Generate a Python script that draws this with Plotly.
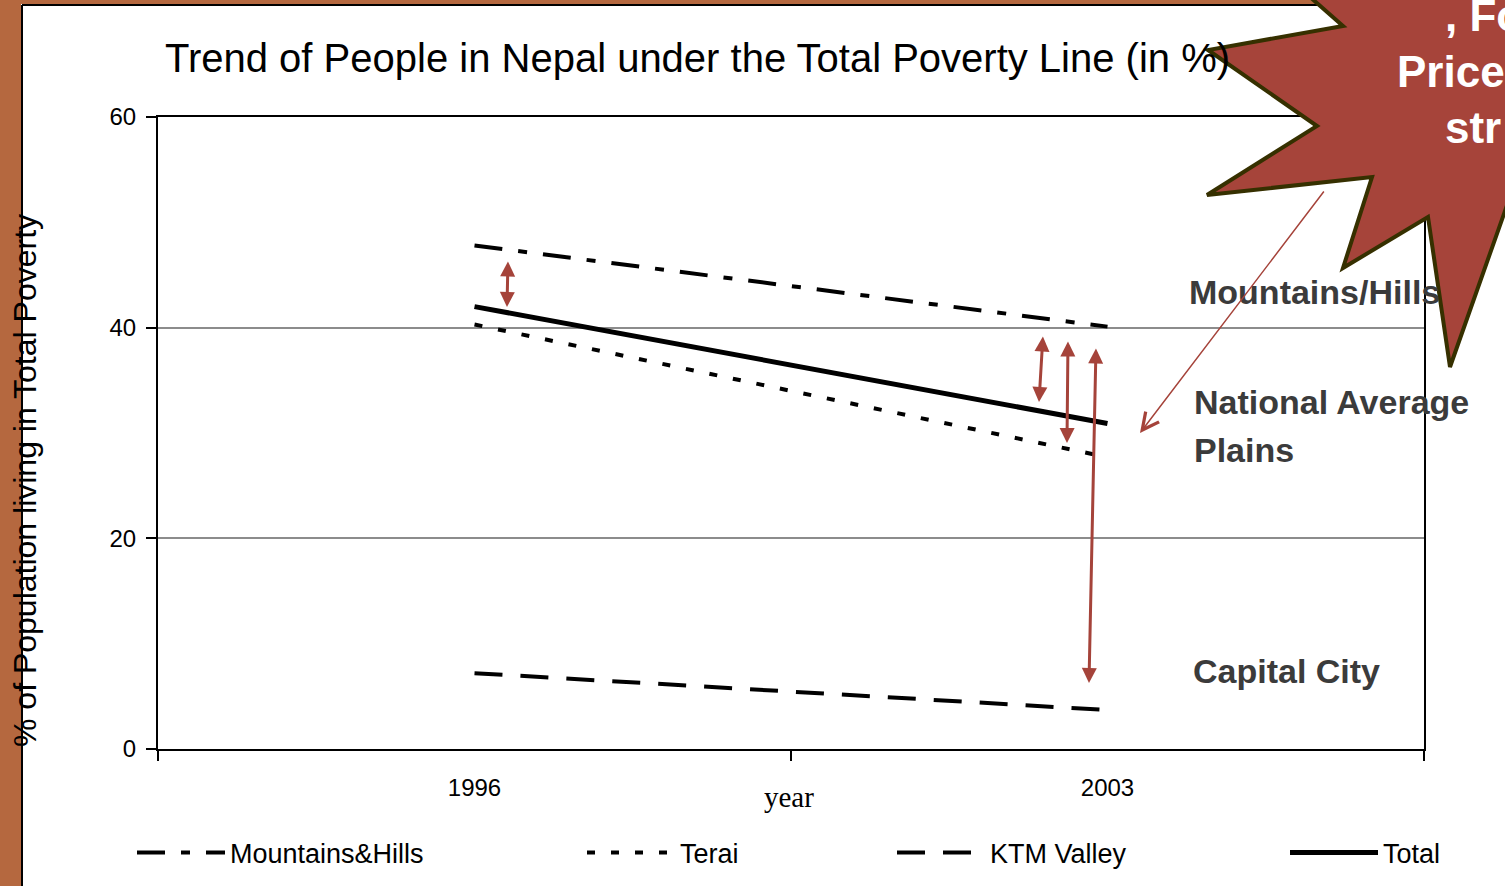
import plotly.graph_objects as go

# ---------------- data ----------------
years = ["1996", "2003"]
mountains_hills = [47.8, 40.1]
terai = [40.3, 27.7]
ktm_valley = [7.2, 3.7]
total = [42.0, 30.9]
y_ticks = [0, 20, 40, 60]

series_names = ["Mountains&Hills", "Terai", "KTM Valley", "Total"]

# ---------------- geometry helpers ----------------
W, H = 1505, 886
L, R, T, B = 158, 81, 117, 137
PW = W - L - R
PH = H - T - B


def px(x):
    return (x - L) / PW


def py(y):
    return (H - B - y) / PH


FONT = "Liberation Sans, Arial, sans-serif"
RED = "#A5433A"
BROWN = "#B5683F"

fig = go.Figure()

styles = [
    dict(color="black", width=4, dash="28px,16px,9px,16px"),
    dict(color="black", width=4, dash="8px,16px"),
    dict(color="black", width=4, dash="28px,18px"),
    dict(color="black", width=5),
]
legend_ids = ["legend", "legend2", "legend3", "legend4"]
legend_x = [132, 582, 892, 1285]
values = [mountains_hills, terai, ktm_valley, total]

for name, vals, st, lg in zip(series_names, values, styles, legend_ids):
    fig.add_trace(go.Scatter(x=years, y=vals, mode="lines", name=name,
                             line=st, legend=lg, hoverinfo="skip"))

legend_common = dict(orientation="h", xanchor="left", yanchor="middle",
                     y=py(853), bgcolor="rgba(0,0,0,0)", itemwidth=88,
                     font=dict(family=FONT, size=27, color="black"))
layout_legends = {}
for lg, lx in zip(legend_ids, legend_x):
    layout_legends[lg] = dict(legend_common, x=px(lx))

shapes = []
# slide frame (brown border + black frame line)
shapes.append(dict(type="rect", xref="paper", yref="paper", x0=px(0), x1=px(21),
                   y0=py(H), y1=py(0), fillcolor=BROWN, line_width=0, layer="below"))
shapes.append(dict(type="rect", xref="paper", yref="paper", x0=px(0), x1=px(W),
                   y0=py(4), y1=py(0), fillcolor=BROWN, line_width=0, layer="below"))
shapes.append(dict(type="line", xref="paper", yref="paper", x0=px(22), x1=px(22),
                   y0=py(5), y1=py(H), line=dict(color="black", width=2), layer="below"))
shapes.append(dict(type="line", xref="paper", yref="paper", x0=px(22), x1=px(W),
                   y0=py(5), y1=py(5), line=dict(color="black", width=2), layer="below"))

# starburst
star_pts = [(1285, -25), (1343, 26), (1208, 50), (1317, 126), (1207, 195),
            (1372, 177), (1343, 268), (1428, 217), (1450, 367), (1530, 140),
            (1580, -30)]
path = "M " + " L ".join(f"{px(x):.5f},{py(y):.5f}" for x, y in star_pts) + " Z"
shapes.append(dict(type="path", xref="paper", yref="paper", path=path,
                   fillcolor="#A6443A", line=dict(color="#363000", width=4),
                   layer="above"))

annotations = []
# axis title (y) and x title
annotations.append(dict(xref="paper", yref="paper", x=px(25), y=py(481),
                        text="% of Population living in Total Poverty", textangle=-90,
                        showarrow=False, font=dict(family=FONT, size=32, color="black"),
                        xanchor="center", yanchor="middle"))
annotations.append(dict(xref="paper", yref="paper", x=px(789), y=py(797), text="year",
                        showarrow=False, font=dict(family="Liberation Serif, Times New Roman, serif",
                                                   size=29, color="black"),
                        xanchor="center", yanchor="middle"))

# region labels
for txt, lx, ly in [("Mountains/Hills", 1187, 292), ("National Average", 1192, 402),
                    ("Plains", 1192, 450), ("Capital City", 1191, 671)]:
    annotations.append(dict(xref="paper", yref="paper", x=px(lx), y=py(ly), text=f"<b>{txt}</b>",
                            showarrow=False, xanchor="left", yanchor="middle",
                            font=dict(family=FONT, size=34, color="#3B3B3B")))

# starburst text (cut off at slide edge)
for txt, lx, ly in [(", Fo", 1443, 15), ("Price", 1395, 71), ("str", 1443, 128)]:
    annotations.append(dict(xref="paper", yref="paper", x=px(lx), y=py(ly), text=f"<b>{txt}</b>",
                            showarrow=False, xanchor="left", yanchor="middle",
                            font=dict(family=FONT, size=44, color="white")))

# double-headed red arrows (tip to tip, pixel positions)
for (x1, y1), (x2, y2) in [((508, 260), (507, 307)), ((1043, 335), (1039, 402)),
                           ((1068, 340), (1067, 443)), ((1096, 347), (1089, 683))]:
    annotations.append(dict(xref="paper", yref="paper", x=px(x2), y=py(y2),
                            ax=x1 - x2, ay=y1 - y2, text="", showarrow=True,
                            arrowside="end+start", arrowhead=2, startarrowhead=2,
                            arrowsize=1.0, startarrowsize=1.0, arrowwidth=3,
                            arrowcolor=RED))
# thin pointer arrow from the starburst
annotations.append(dict(xref="paper", yref="paper", x=px(1140), y=py(433),
                        ax=1325 - 1140, ay=190 - 433, text="", showarrow=True,
                        arrowhead=5, arrowsize=2.2, arrowwidth=1.5, arrowcolor=RED))

fig.update_layout(
    width=W, height=H,
    margin=dict(l=L, r=R, t=T, b=B, pad=0, autoexpand=False),
    paper_bgcolor="white", plot_bgcolor="white",
    font=dict(family=FONT, color="black"),
    title=dict(text="Trend of People in Nepal under the Total Poverty Line (in %)",
               xref="paper", x=px(165), xanchor="left",
               yref="container", y=1 - 58 / H, yanchor="middle",
               font=dict(family=FONT, size=40, color="black")),
    xaxis=dict(type="category", range=[-0.5, 1.5], tickson="boundaries",
               ticks="outside", ticklen=10, tickwidth=2, tickcolor="black",
               showline=True, linecolor="black", linewidth=2, mirror=True,
               showgrid=False, zeroline=False, ticklabelstandoff=16,
               tickfont=dict(family=FONT, size=24, color="black")),
    yaxis=dict(range=[0, 60], tickvals=y_ticks, ticks="outside", ticklen=10,
               tickwidth=2, tickcolor="black", showline=True, linecolor="black",
               linewidth=2, mirror=True, showgrid=True, gridcolor="#8C8C8C",
               gridwidth=1.5, zeroline=False, ticklabelstandoff=5,
               tickfont=dict(family=FONT, size=24, color="black")),
    shapes=shapes,
    annotations=annotations,
    showlegend=True,
    **layout_legends,
)

fig.write_html("out.html")
